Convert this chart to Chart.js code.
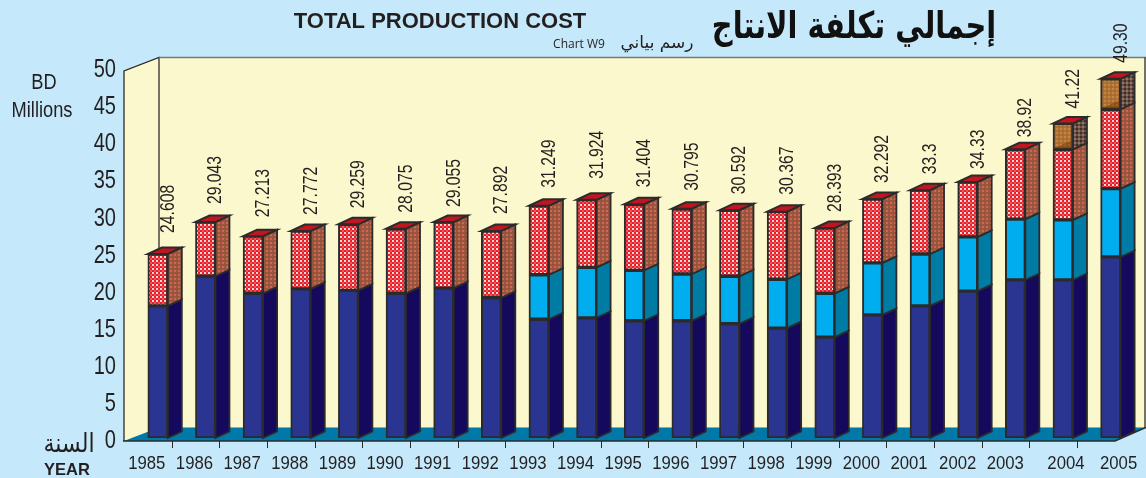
<!DOCTYPE html>
<html><head><meta charset="utf-8">
<style>html,body{margin:0;padding:0;background:#c5e9fa;overflow:hidden}canvas{display:block}</style>
<script src="https://cdn.jsdelivr.net/npm/chart.js@4"></script>
</head><body><div style="width:1146px;height:478px"><canvas id="c" width="1146" height="478"></canvas></div>
<script>
const years=['1985','1986','1987','1988','1989','1990','1991','1992','1993','1994','1995','1996','1997','1998','1999','2000','2001','2002','2003','2004','2005'];
const base=[17.8,21.8,19.5,20.1,19.9,19.5,20.2,18.9,16.0,16.2,15.8,15.8,15.4,14.8,13.6,16.6,17.8,19.8,21.3,21.3,24.4];
const second=[0,0,0,0,0,0,0,0,6.0,6.8,6.8,6.3,6.4,6.6,5.9,7.0,7.0,7.3,8.2,8.1,9.2];
const third=[7.0,7.3,7.7,7.8,8.9,8.7,8.9,9.0,9.3,9.1,8.9,8.8,8.9,9.1,8.8,8.6,8.6,7.4,9.4,9.5,10.7];
const fourth=[0,0,0,0,0,0,0,0,0,0,0,0,0,0,0,0,0,0,0,3.5,4.1];
const totals=['24.608','29.043','27.213','27.772','29.259','28.075','29.055','27.892','31.249','31.924','31.404','30.795','30.592','30.367','28.393','32.292','33.3','34.33','38.92','41.22','49.30'];
const yTicks=[0,5,10,15,20,25,30,35,40,45,50];
const labelShift=[0,0,0,0,0,0,0,0,0,0,0,0,0,0,0,0,0,1,1,14,19];
const labelGap=[21,18,19,16,16,16,15,17,18,21,17,18,16,17,16,16,16,13,12,15,16];

const PLAIN='"Liberation Sans"';
const squeeze={19:.88,21:.75,26:.77,22:.83};
function pat(a,b,e,size){
  const c=document.createElement('canvas');c.width=c.height=size;
  const g=c.getContext('2d');
  g.fillStyle=a;g.fillRect(0,0,size,size);
  const h=size/2;
  g.fillStyle=b;g.fillRect(0,0,h,h);
  g.fillStyle=e;g.fillRect(h,h,h,h);
  return g.createPattern(c,'repeat');
}
const redFront=pat('#e2202c','#fbd8d4','#f2545c',4);
const redSide=pat('#a4523c','#8a5a3e','#c46a56',4);
const brownFront=pat('#b0702e','#c48648','#a46a34',4);
const brownSide=pat('#6a5044','#3e2e28','#8f7464',4);
const sideColors=['#14095c','#007ba3',redSide,brownSide];
const DX=14,DY=6.5;
const ink='#2b2b2b';

const cv=document.getElementById('c');
const ctx0=cv.getContext('2d');
const rawFill=ctx0.fillText.bind(ctx0);
ctx0.fillText=function(t,x,y,m){
  const f=ctx0.font,mm=f.match(/^(\d+)px/);
  if(mm&&/Liberation Sans/.test(f)&&squeeze[+mm[1]]){
    ctx0.save();ctx0.translate(x,y);ctx0.scale(squeeze[+mm[1]],1);rawFill(t,0,0);ctx0.restore();
  } else rawFill(t,x,y);
};
function wideText(c,t,cx,y,s){c.save();c.translate(cx,y);c.scale(s,1);c.fillText(t,0,0);c.restore();}

const scene={id:'scene',
  beforeDatasetsDraw(ch){
    const c=ch.ctx,x=ch.scales.x,y=ch.scales.y;
    const y0=y.getPixelForValue(0)+3,y1=y.getPixelForValue(50)+4;
    const L=x.left-10,W=35,R=ch.width,bk=13.5;
    c.save();
    c.fillStyle='#fcf8cd';
    c.fillRect(L+W,y1-bk,R-(L+W),y0-bk-(y1-bk));
    c.beginPath();c.moveTo(L,y1);c.lineTo(L+W,y1-bk);c.lineTo(L+W,y0-bk);c.lineTo(L,y0);c.closePath();c.fill();
    c.fillStyle='#0078a8';
    c.beginPath();c.moveTo(L,y0);c.lineTo(L+W,y0-bk);c.lineTo(R,y0-bk);c.lineTo(R-31,y0);c.closePath();c.fill();
    c.strokeStyle=ink;c.lineWidth=1.3;
    c.beginPath();c.moveTo(L,y0);c.lineTo(L,y1);c.lineTo(L+W,y1-bk);c.lineTo(L+W,y0-bk);c.stroke();
    c.strokeStyle='#777';c.lineWidth=1.5;
    c.beginPath();c.moveTo(L+W,y1-bk);c.lineTo(R,y1-bk);c.stroke();
    c.strokeStyle=ink;c.lineWidth=1.3;
    c.beginPath();c.moveTo(R-1,y1-bk);c.lineTo(R-1,y0-bk);c.stroke();
    c.lineWidth=1.6;
    c.beginPath();c.moveTo(L-1,y0);c.lineTo(R-31,y0);c.lineTo(R,y0-bk);c.stroke();
    c.lineWidth=1;
    years.forEach((t,i)=>{ if(i===years.length-1)return;
      const px=Math.round(x.getPixelForValue(i)+14)+.5;
      c.beginPath();c.moveTo(px,y0);c.lineTo(px,y0+7);c.stroke();});
    ch.data.datasets.forEach((d,di)=>{
      const m=ch.getDatasetMeta(di);
      m.data.forEach((el,i)=>{
        if(!d.data[i])return;
        const r=el.x+el.width/2,t=el.y,b=el.base;
        c.fillStyle=sideColors[di];
        c.beginPath();c.moveTo(r,b);c.lineTo(r+DX,b-DY);c.lineTo(r+DX,t-DY);c.lineTo(r,t);c.closePath();c.fill();
        c.strokeStyle=ink;c.lineWidth=1.8;c.stroke();
      });
    });
    c.restore();
  },
  afterDatasetsDraw(ch){
    const c=ch.ctx;
    c.save();
    // darker wedge at the foot of the brown front faces
    ch.getDatasetMeta(3).data.forEach((el,i)=>{
      if(!fourth[i])return;
      const l=el.x-el.width/2+1,r=el.x+el.width/2-1,b=el.base-1;
      c.fillStyle='rgba(120,60,10,.55)';
      c.beginPath();c.moveTo(l,b);c.lineTo(r,b);c.lineTo(r,b-8);c.closePath();c.fill();
    });
    years.forEach((t,i)=>{
      let top=null;
      ch.data.datasets.forEach((d,di)=>{ if(d.data[i]) top=ch.getDatasetMeta(di).data[i];});
      const l=top.x-top.width/2,r=top.x+top.width/2,yy=top.y;
      c.fillStyle='#c1151f';c.strokeStyle=ink;c.lineWidth=2;
      c.beginPath();c.moveTo(l,yy);c.lineTo(r,yy);c.lineTo(r+DX,yy-DY);c.lineTo(l+DX,yy-DY);c.closePath();c.fill();c.stroke();
      c.save();
      c.translate(top.x+16,yy-labelGap[i]);c.rotate(-Math.PI/2);
      c.font='21px '+PLAIN;c.fillStyle='#231f20';c.textAlign='left';c.textBaseline='alphabetic';
      c.fillText(totals[i],0,0);
      c.restore();
    });
    c.fillStyle='#231f20';c.textBaseline='alphabetic';
    c.textAlign='center';
    c.font='bold 22px "Liberation Sans"';c.fillText('TOTAL PRODUCTION COST',440,28);
    c.font='bold 37px "DejaVu Sans"';c.fillStyle='#111';wideText(c,'إجمالي تكلفة الانتاج',854,38,.78);
    c.fillStyle='#231f20';
    c.font='12px "Open Sans"';c.fillText('Chart W9',579,48);
    c.font='17px "DejaVu Sans"';c.fillText('رسم بياني',657,48);
    c.font='22px '+PLAIN;c.fillText('BD',44,89);c.fillText('Millions',42,117);
    c.font='26px "DejaVu Sans"';wideText(c,'السنة',69,452,.85);
    c.font='bold 16.5px "Liberation Sans"';c.fillText('YEAR',67,475);
    c.restore();
  }
};
const labelFix={id:'labelFix',beforeDraw(ch){
  const s=ch.scales.x;
  s.getLabelItems(ch.chartArea).forEach((it,i)=>{it.options.translation=[it.options.translation[0]+labelShift[i],it.options.translation[1]];});
}};
const bgPlugin={id:'bg',beforeDraw(ch){const c=ch.ctx;c.save();c.fillStyle='#c5e9fa';c.fillRect(0,0,ch.width,ch.height);c.restore();}};

const ds=(label,data,color)=>({label,data,backgroundColor:color,borderColor:ink,borderWidth:2,borderSkipped:false,stack:'a',barThickness:20});
new Chart(cv,{
  type:'bar',
  data:{labels:years,datasets:[
    ds('Layer 1',base,'#2a3591'),
    ds('Layer 2',second,'#00aeef'),
    ds('Layer 3',third,redFront),
    ds('Layer 4',fourth,brownFront)]},
  plugins:[bgPlugin,labelFix,scene],
  options:{responsive:false,animation:false,
    layout:{padding:{top:67,right:11,left:0,bottom:0}},
    plugins:{legend:{display:false},tooltip:{enabled:false}},
    scales:{
      x:{stacked:true,grid:{display:false,drawTicks:false},border:{display:false},
        afterFit:s=>{s.height=40},
        ticks:{padding:14,labelOffset:-11,maxRotation:0,autoSkip:false,color:'#231f20',font:{family:PLAIN,size:19}}},
      y:{stacked:true,min:0,max:50,grid:{display:false,drawTicks:false},border:{display:false},
        afterFit:s=>{s.width=134},
        afterBuildTicks:s=>{s.ticks=yTicks.map(v=>({value:v}))},
        ticks:{padding:18,labelOffset:3,color:'#231f20',font:{family:PLAIN,size:26}}}
    }}
});
</script></body></html>
